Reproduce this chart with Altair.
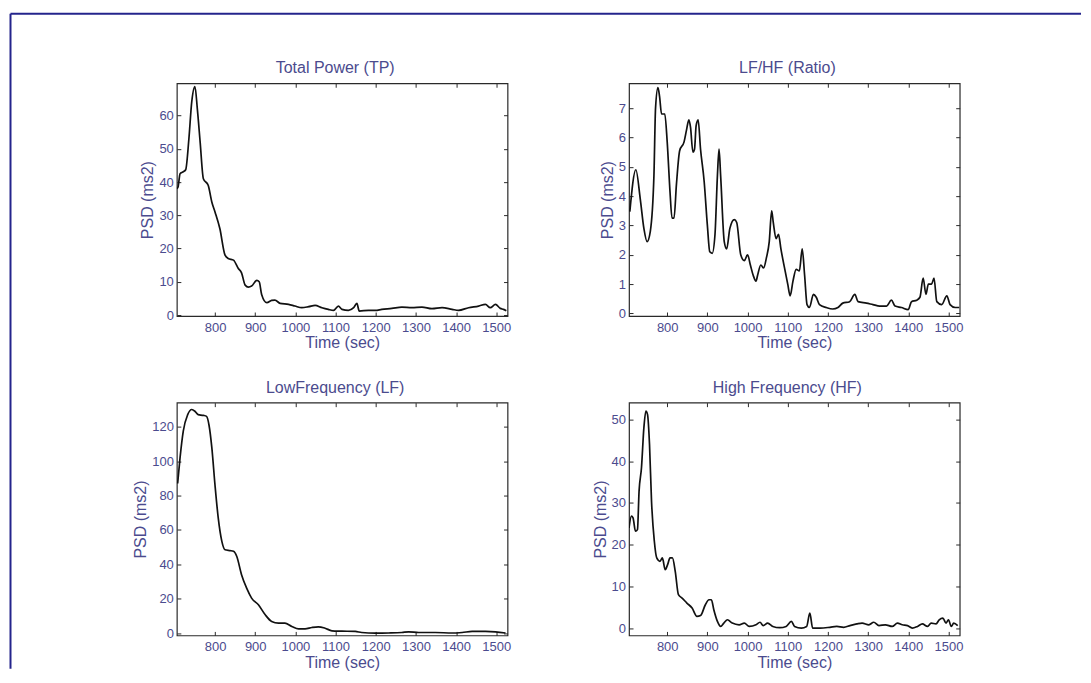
import altair as alt
import pandas as pd

# ---------------- data ----------------
tp_t = [705, 708, 713, 720, 727, 735, 742, 750, 756, 763, 771, 783, 792, 800, 812, 825, 833, 846, 858, 866,
        875, 883, 891, 904, 910, 916, 929, 941, 949, 962, 983, 999, 1016, 1033, 1049, 1066, 1082, 1095, 1107,
        1116, 1132, 1145, 1153, 1159, 1182, 1199, 1215, 1240, 1265, 1290, 1315, 1340, 1365, 1390, 1406, 1431,
        1456, 1473, 1485, 1498, 1510, 1518, 1525]
tp_v = [38, 38.5, 42.5, 43, 43.7, 53, 64, 68.7, 62, 52, 41, 39, 34, 31, 26, 18, 17, 16.5, 14, 12.7,
        9, 8.4, 8.7, 10.4, 10, 6.2, 3.7, 4.4, 4.5, 3.5, 3.2, 2.7, 2.2, 2.5, 2.9, 2.2, 1.7, 1.4, 2.7,
        1.7, 1.4, 2.2, 3.5, 1.2, 1.4, 1.4, 1.7, 2.0, 2.4, 2.2, 2.4, 1.9, 2.2, 1.7, 1.4, 2.2,
        2.7, 3.2, 2.2, 3.2, 2.0, 1.7, 1.3]

ratio_t = [707, 722, 733, 742, 750, 758, 767, 771, 777, 781, 786, 794, 800, 807, 812, 817, 823, 831, 842, 848,
           854, 858, 864, 868, 872, 877, 883, 892, 900, 906, 912, 919, 925, 929, 933, 942, 948, 956, 967, 973,
           983, 992, 1000, 1007, 1014, 1021, 1025, 1033, 1040, 1047, 1054, 1060, 1064, 1071, 1077, 1083, 1092,
           1100, 1106, 1113, 1121, 1129, 1136, 1142, 1148, 1154, 1164, 1171, 1179, 1196, 1212, 1225, 1237, 1254,
           1267, 1275, 1296, 1312, 1329, 1346, 1358, 1367, 1383, 1400, 1408, 1421, 1429, 1437, 1444, 1450, 1458,
           1464, 1471, 1483, 1496, 1504, 1517, 1527]
ratio_v = [3.47, 4.9, 3.9, 2.9, 2.45, 2.8, 4.7, 7.0, 7.7, 7.4, 6.8, 6.8, 5.85, 4.15, 3.25, 3.25, 4.4, 5.55, 5.85, 6.25,
           6.6, 6.35, 5.5, 5.6, 6.4, 6.6, 5.6, 4.5, 3.0, 2.1, 2.05, 2.7, 4.7, 5.6, 4.7, 2.45, 2.2, 2.9, 3.2, 3.1,
           2.0, 1.8, 2.0, 1.65, 1.3, 1.1, 1.3, 1.65, 1.55, 1.9, 2.45, 3.5, 3.1, 2.55, 2.7, 2.2, 1.55,
           1.0, 0.6, 1.1, 1.5, 1.45, 2.2, 1.3, 0.3, 0.2, 0.65, 0.55, 0.3, 0.2, 0.15, 0.2, 0.35, 0.4,
           0.65, 0.4, 0.35, 0.3, 0.25, 0.25, 0.45, 0.25, 0.2, 0.13, 0.4, 0.45, 0.55, 1.2, 0.65, 1.0, 1.0,
           1.2, 0.4, 0.3, 0.6, 0.3, 0.2, 0.2]

lf_t = [707, 713, 721, 732, 742, 750, 758, 771, 779, 785, 792, 800, 808, 817, 825, 837, 846, 854, 866, 879,
        891, 908, 925, 941, 958, 974, 991, 1008, 1024, 1041, 1057, 1074, 1091, 1116, 1149, 1165, 1199, 1232,
        1265, 1282, 1307, 1348, 1390, 1415, 1440, 1473, 1498, 1523]
lf_v = [87, 102, 117.5, 127, 130, 129, 127, 126.6, 126, 121, 108, 86, 67, 53.4, 48.5, 48, 47.6, 44.7, 34, 26,
        20.4, 16.5, 10.7, 6.8, 5.8, 5.8, 3.9, 2.5, 2.5, 3.3, 3.7, 2.9, 1.4, 1.2, 1.0, 0.4, 0.0, 0.1,
        0.4, 0.8, 0.4, 0.4, 0.1, 0.4, 1.0, 1.0, 0.8, 0.1]

hf_t = [705, 711, 715, 721, 726, 730, 736, 742, 747, 751, 756, 761, 768, 774, 782, 788, 795, 801, 807, 813,
        820, 828, 837, 849, 862, 874, 883, 895, 904, 910, 916, 925, 933, 941, 950, 962, 979, 992, 1004, 1021,
        1031, 1039, 1050, 1063, 1080, 1096, 1109, 1117, 1134, 1147, 1155, 1162, 1180, 1205, 1222, 1239, 1255,
        1272, 1285, 1302, 1314, 1327, 1343, 1360, 1373, 1385, 1398, 1410, 1423, 1435, 1448, 1457, 1469, 1477,
        1486, 1494, 1500, 1507, 1513, 1523]
hf_v = [24, 26.8, 26.4, 23.2, 23.6, 32.8, 38.4, 48, 52, 51.2, 44, 30.4, 20.8, 16.8, 16, 16.8, 14, 15.2, 16.8, 16.8,
        13.6, 8, 7.2, 6, 4.8, 2.8, 3.0, 5.6, 6.8, 6.8, 4.4, 1.6, 0.4, 1.2, 2.0, 1.2, 0.8, 1.2, 0.4, 0.8,
        1.4, 0.6, 1.2, 0.4, 0.1, 0.4, 1.6, 0.4, 0.0, 0.4, 3.6, 0.0, 0.0, 0.2, 0.4, 0.2, 0.6,
        1.0, 1.2, 0.8, 1.4, 0.6, 0.8, 0.4, 1.2, 0.8, 0.6, 0.0, 0.4, 1.0, 0.4, 1.2, 1.0, 2.0,
        2.4, 1.2, 2.0, 0.4, 1.2, 0.6]

x_ticks = [800, 900, 1000, 1100, 1200, 1300, 1400, 1500]
x_domain = [705, 1528]

panels = [
    ("Total Power (TP)", tp_t, tp_v, [-0.3, 69.7], [0, 10, 20, 30, 40, 50, 60]),
    ("LF/HF (Ratio)", ratio_t, ratio_v, [-0.09, 7.85], [0, 1, 2, 3, 4, 5, 6, 7]),
    ("LowFrequency (LF)", lf_t, lf_v, [-1.3, 134], [0, 20, 40, 60, 80, 100, 120]),
    ("High Frequency (HF)", hf_t, hf_v, [-1.75, 54], [0, 10, 20, 30, 40, 50]),
]

# ---------------- style ----------------
FONT = "Liberation Sans"
TEXT = "#4b4b8e"
BOX = "#2a2a2a"
NAVY = "#24248c"
W, H = 331, 233
TICK = {"expr": "-4"}


def make_panel(title, t, v, ydom, yticks, frame=False):
    df = pd.DataFrame({"t": t, "v": v})
    one = pd.DataFrame({"k": [0]})
    xs = alt.Scale(domain=x_domain, nice=False, zero=False)
    ys = alt.Scale(domain=ydom, nice=False, zero=False)
    common = dict(domain=False, grid=False, tickSize=TICK, tickColor=BOX, tickWidth=1,
                  labelColor=TEXT, labelFont=FONT, labelFontSize=13, labelOverlap=False,
                  labelFlush=False, titleFont=FONT, titleFontSize=16, titleColor=TEXT,
                  titleFontWeight="normal", format="d")
    line = alt.Chart(df).mark_line(color="#111111", strokeWidth=1.7, clip=True,
                                   interpolate="monotone").encode(
        x=alt.X("t:Q", scale=xs, axis=alt.Axis(values=x_ticks, title="Time (sec)", labelPadding=9,
                                               titlePadding=1, **common)),
        y=alt.Y("v:Q", scale=ys, axis=alt.Axis(values=yticks, title="PSD (ms2)", labelPadding=7.5,
                                               titlePadding=3, **common)),
    )
    mirror = alt.Chart(df).mark_line(opacity=0).encode(
        x=alt.X("t:Q", scale=xs, axis=alt.Axis(orient="top", values=x_ticks, labels=False, title=None,
                                               domain=False, grid=False, tickSize=TICK, tickColor=BOX)),
        y=alt.Y("v:Q", scale=ys, axis=alt.Axis(orient="right", values=yticks, labels=False, title=None,
                                               domain=False, grid=False, tickSize=TICK, tickColor=BOX)),
    )
    head = alt.Chart(one).mark_text(text=title, font=FONT, fontSize=16, color=TEXT,
                                     align="center", baseline="alphabetic").encode(
        x=alt.value(W / 2 - 7), y=alt.value(-10))
    layers = [line, mirror, head]
    if frame:
        layers.append(alt.Chart(one).mark_rule(color=NAVY, strokeWidth=2).encode(
            x=alt.value(-166.5), x2=alt.value(905), y=alt.value(-69.5)))
        layers.append(alt.Chart(one).mark_rule(color=NAVY, strokeWidth=2).encode(
            x=alt.value(-166.5), y=alt.value(-69.5), y2=alt.value(586)))
    return alt.layer(*layers).resolve_axis(x="independent", y="independent").properties(
        width=W, height=H)


charts = [make_panel(*p, frame=(i == 0)) for i, p in enumerate(panels)]

chart = alt.concat(*charts, columns=2, spacing={"row": 86.7, "column": 121.6}, bounds="flush").properties(
    padding={"left": 0, "top": 3, "right": 0, "bottom": 0}, background="white"
).configure_view(stroke=BOX, strokeWidth=1.2)

chart.save("out.html", embed_options={"renderer": "svg", "actions": False})
